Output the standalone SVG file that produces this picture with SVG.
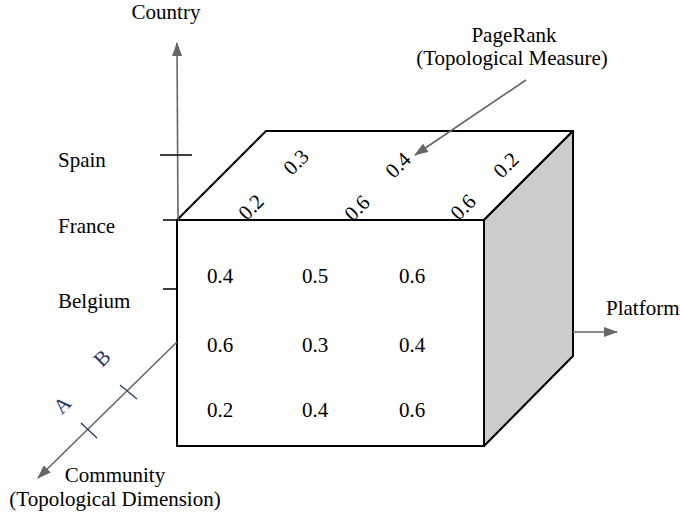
<svg xmlns="http://www.w3.org/2000/svg" width="680" height="520" viewBox="0 0 680 520">
<defs>
<style>
text{font-family:"Liberation Serif","Times New Roman",serif;font-size:21px;fill:#000}
.m{text-anchor:middle}
.ax{stroke:#666;stroke-width:1.6;fill:none}
.box{stroke:#000;stroke-width:2;stroke-linejoin:round}
.tk{stroke:#000;stroke-width:1.5}
.nv{stroke:#1f3864;stroke-width:1.2}
.nt{fill:#1f3864}
</style>
<marker id="ah" viewBox="0 0 14 10" refX="13" refY="5" markerWidth="14" markerHeight="10" orient="auto" markerUnits="userSpaceOnUse">
<path d="M0,0L14,5L0,10z" fill="#666"/>
</marker>
</defs>
<rect width="680" height="520" fill="#fff"/>
<g id="cube">
<polygon class="box" points="177,220 266,131 573,131 484,220" fill="#fff"/>
<polygon class="box" points="484,220 573,131 573,356 484,446" fill="#cccccc"/>
<rect class="box" x="177" y="220" width="307" height="226" fill="#fff"/>
</g>
<g id="connectors">
<line class="ax" x1="178" y1="220" x2="177" y2="43" marker-end="url(#ah)"/>
<line class="ax" x1="177" y1="342" x2="38" y2="478" marker-end="url(#ah)"/>
<line class="ax" x1="573" y1="332" x2="617" y2="332" marker-end="url(#ah)"/>
<line class="ax" x1="526" y1="80" x2="415" y2="155" marker-end="url(#ah)"/>
</g>
<g id="ticks">
<line class="tk" x1="160" y1="155" x2="192" y2="155"/>
<line class="tk" x1="163" y1="220" x2="178" y2="220"/>
<line class="tk" x1="163" y1="289" x2="177" y2="289"/>
<line class="nv" x1="120" y1="385" x2="137" y2="399"/>
<line class="nv" x1="81" y1="423" x2="97" y2="438"/>
</g>
<g id="labels">
<text class="m" x="166" y="19">Country</text>
<text class="m" x="514" y="42">PageRank</text>
<text class="m" x="512" y="65">(Topological Measure)</text>
<text x="58" y="167">Spain</text>
<text x="58" y="233">France</text>
<text x="58" y="308">Belgium</text>
<text x="606" y="315">Platform</text>
<text class="m" x="115" y="482">Community</text>
<text class="m" x="115" y="506">(Topological Dimension)</text>
<text class="m nt" transform="translate(67,410) rotate(-45)">A</text>
<text class="m nt" transform="translate(107,363) rotate(-45)">B</text>
</g>
<g id="front-values">
<text class="m" x="220" y="283">0.4</text>
<text class="m" x="315" y="283">0.5</text>
<text class="m" x="412" y="283">0.6</text>
<text class="m" x="220" y="352">0.6</text>
<text class="m" x="315" y="352">0.3</text>
<text class="m" x="412" y="352">0.4</text>
<text class="m" x="220" y="417">0.2</text>
<text class="m" x="315" y="417">0.4</text>
<text class="m" x="412" y="417">0.6</text>
</g>
<g id="top-values">
<text class="m" transform="translate(256,212) rotate(-45)">0.2</text>
<text class="m" transform="translate(301,167) rotate(-45)">0.3</text>
<text class="m" transform="translate(362,213) rotate(-45)">0.6</text>
<text class="m" transform="translate(403,170) rotate(-45)">0.4</text>
<text class="m" transform="translate(468,212) rotate(-45)">0.6</text>
<text class="m" transform="translate(511,170) rotate(-45)">0.2</text>
</g>
</svg>
